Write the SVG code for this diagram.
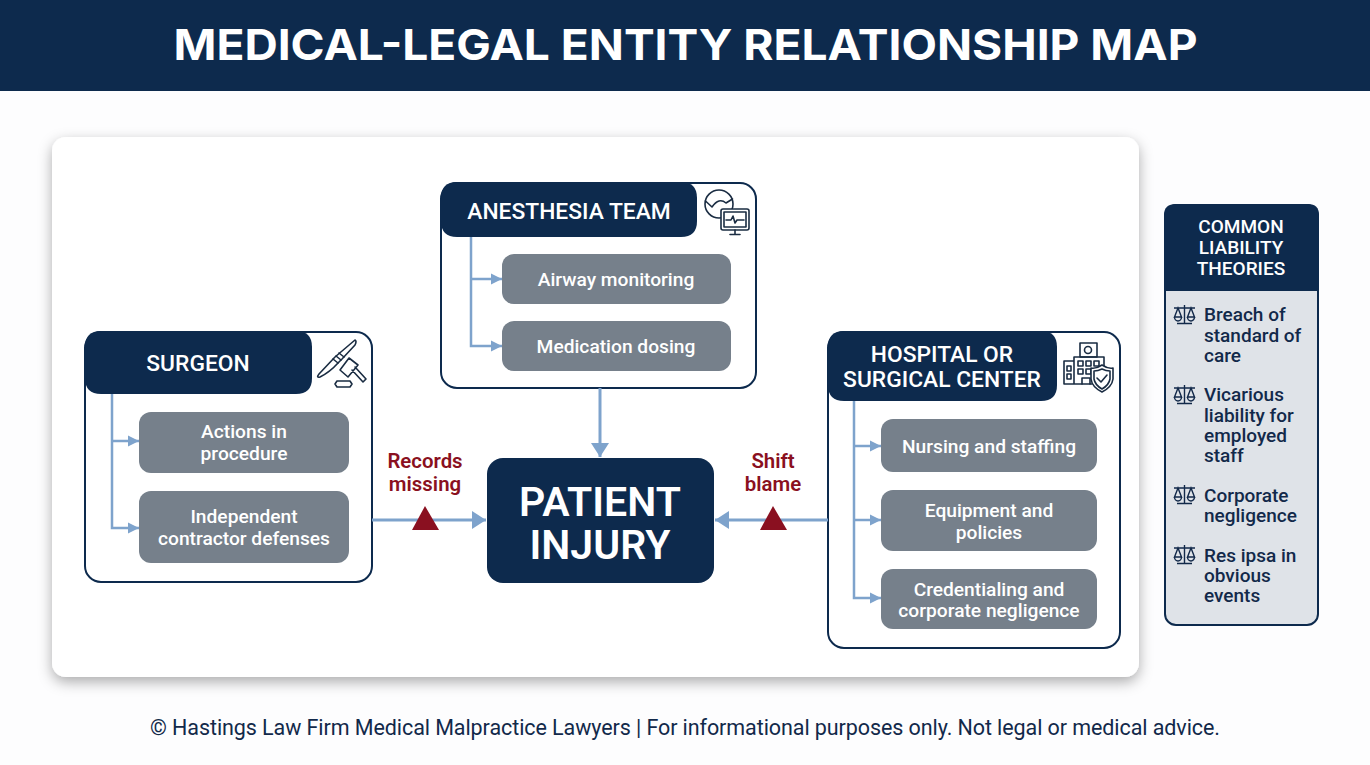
<svg xmlns="http://www.w3.org/2000/svg" width="1370" height="765" viewBox="0 0 1370 765">
<defs>
<filter id="sh" x="-5%" y="-5%" width="110%" height="112%"><feDropShadow dx="0" dy="5" stdDeviation="7" flood-color="#000" flood-opacity="0.32"/></filter>
<marker id="arr" markerUnits="userSpaceOnUse" markerWidth="16" markerHeight="18" refX="14" refY="9" orient="auto"><path d="M0 0L14 9L0 18Z" fill="#7ea3cc"/></marker>
<marker id="arrs" markerUnits="userSpaceOnUse" markerWidth="12" markerHeight="12" refX="11" refY="6" orient="auto"><path d="M0 0.5L11 6L0 11.5Z" fill="#7ea3cc"/></marker>
<g id="scale"><g fill="none" stroke="#12294a" stroke-width="1.400"><path d="M11.500 0V18M4 18.500H19M1 3H22M5 3L1.500 12H8.500ZM18 3L14.500 12H21.500Z"/><path d="M1.500 12A3.500 4 0 0 0 8.500 12M14.500 12A3.500 4 0 0 0 21.500 12"/></g></g>
</defs>
<style>
text{font-family:Roboto,"Liberation Sans",sans-serif;text-anchor:middle}
.box{fill:#fff;stroke:#0d2a4d;stroke-width:2}
.hd{fill:#0d2a4d}
.ht{fill:#fff;font-size:22.800px;font-weight:500}
.it{fill:#76808b}
.itx{fill:#fff;font-size:19.200px;font-weight:500}
.red{fill:#8a1020;font-size:20.400px;font-weight:600}
.con{fill:none;stroke:#7ea3cc;stroke-width:2.500}
.conb{fill:none;stroke:#7ea3cc;stroke-width:3}
.li{fill:#12294a;font-size:19px;font-weight:500;text-anchor:start}
.lh{fill:#fff;font-size:19px;font-weight:500}
.ic{fill:none;stroke:#1a2c42;stroke-width:1.600;stroke-linejoin:round;stroke-linecap:round}
</style>
<rect width="1370" height="765" fill="#fdfdfe"/>
<g id="title"><rect width="1370" height="91" fill="#0d2a4d"/><text x="685.500" y="60" fill="#fff" font-size="43" font-weight="700" style="font-family:Inter,'Liberation Sans',sans-serif" textLength="1024" lengthAdjust="spacingAndGlyphs">MEDICAL-LEGAL ENTITY RELATIONSHIP MAP</text></g>
<rect id="panel" x="52" y="137" width="1087" height="540" rx="14" fill="#fff" filter="url(#sh)"/>
<g id="anesthesia">
<rect class="box" x="441" y="183" width="315" height="205" rx="16"/>
<path class="hd" d="M457 182H681Q697 182 697 198V221Q697 237 681 237H457Q441 237 441 221V198Q441 182 457 182Z"/>
<text class="ht" x="569" y="219">ANESTHESIA TEAM</text>
<rect class="it" x="502" y="254" width="229" height="50" rx="12"/><text class="itx" x="616" y="286">Airway monitoring</text>
<rect class="it" x="502" y="321" width="229" height="50" rx="12"/><text class="itx" x="616" y="353">Medication dosing</text>
<g class="ic"><circle cx="719" cy="204" r="14"/><path d="M705.500 201L712 207Q719 197 726 203L732.500 199"/><rect x="721" y="209" width="28" height="21" rx="2" fill="#fff"/><rect x="724" y="212" width="22" height="15"/><path d="M726 220H731L733 216L735 223L737 220H744M735 230V234M730 234.500H740"/></g>
</g>
<g id="surgeon">
<rect class="box" x="85" y="332" width="287" height="250" rx="16"/>
<path class="hd" d="M101 331H296Q312 331 312 347V378Q312 394 296 394H101Q85 394 85 378V347Q85 331 101 331Z"/>
<text class="ht" x="198" y="371">SURGEON</text>
<rect class="it" x="139" y="412" width="210" height="61" rx="12"/><text class="itx"><tspan x="244" y="438">Actions in</tspan><tspan x="244" y="459.500">procedure</tspan></text>
<rect class="it" x="139" y="491" width="210" height="72" rx="12"/><text class="itx"><tspan x="244" y="523">Independent</tspan><tspan x="244" y="544.500">contractor defenses</tspan></text>
<g class="ic"><path d="M355 340Q357 341 355 345L342 359L338 363Q330 372 320 377Q316 378 319 374L335 357Z"/><path d="M333 359L338 363M336 356L341 360M339 353L344 357"/><path d="M349 358L358 365L348 377L340 370ZM352 370L363 382L366 379L355 367M337 381H350L352 384L350 387H337L335 384Z"/></g>
</g>
<g id="hospital">
<rect class="box" x="828" y="332" width="292" height="316" rx="16"/>
<path class="hd" d="M844 331H1041Q1057 331 1057 347V385Q1057 401 1041 401H844Q828 401 828 385V347Q828 331 844 331Z"/>
<text class="ht"><tspan x="942" y="362">HOSPITAL OR</tspan><tspan x="942" y="387">SURGICAL CENTER</tspan></text>
<rect class="it" x="881" y="419" width="216" height="53" rx="12"/><text class="itx" x="989" y="452.500">Nursing and staffing</text>
<rect class="it" x="881" y="490" width="216" height="61" rx="12"/><text class="itx"><tspan x="989" y="516.500">Equipment and</tspan><tspan x="989" y="538.500">policies</tspan></text>
<rect class="it" x="881" y="569" width="216" height="60" rx="12"/><text class="itx"><tspan x="989" y="595.500">Credentialing and</tspan><tspan x="989" y="616.500">corporate negligence</tspan></text>
<g class="ic"><rect x="1080" y="343" width="17" height="14"/><circle cx="1088" cy="350" r="3.500"/><path d="M1074 384V357H1104V366M1064 384V361H1074M1064 384H1092"/><path d="M1067 366H1071V371H1067ZM1067 374H1071V379H1067ZM1078 361H1083V366H1078ZM1086 361H1091V366H1086ZM1094 361H1099V366H1094ZM1078 369H1083V374H1078ZM1086 369H1091V374H1086ZM1082 384V378H1090V384"/><path d="M1102 365Q1108 369 1113 368V379Q1112 387 1102 392Q1092 387 1091 379V368Q1096 369 1102 365Z" fill="#fff"/><path d="M1102 369Q1106 371 1110 371V379Q1109 385 1102 389Q1095 385 1094 379V371Q1098 371 1102 369Z"/><path d="M1097 378L1101 382L1107 375"/></g>
</g>
<g id="connectors">
<path class="con" marker-end="url(#arrs)" d="M112 394V528H139"/><path class="con" marker-end="url(#arrs)" d="M112 441H139"/>
<path class="con" marker-end="url(#arrs)" d="M471 237V346H502"/><path class="con" marker-end="url(#arrs)" d="M471 279H502"/>
<path class="con" marker-end="url(#arrs)" d="M854 401V598H881"/><path class="con" marker-end="url(#arrs)" d="M854 446H881"/><path class="con" marker-end="url(#arrs)" d="M854 520H881"/>
<path class="conb" marker-end="url(#arr)" d="M600 388V457"/>
<path class="conb" marker-end="url(#arr)" d="M372 520H486"/>
<path class="conb" marker-end="url(#arr)" d="M828 520H715"/>
</g>
<g id="records-missing"><text class="red"><tspan x="425" y="468">Records</tspan><tspan x="425" y="491">missing</tspan></text><path d="M425 506L439 530H412Z" fill="#8a1020"/></g>
<g id="shift-blame"><text class="red"><tspan x="773" y="468">Shift</tspan><tspan x="773" y="491">blame</tspan></text><path d="M773 506L787 530H760Z" fill="#8a1020"/></g>
<g id="patient-injury"><rect x="487" y="458" width="227" height="125" rx="16" fill="#0d2a4d"/><text fill="#fff" font-size="41" font-weight="600"><tspan x="600" y="516">PATIENT</tspan><tspan x="600" y="559">INJURY</tspan></text></g>
<g id="theories">
<rect x="1165" y="205" width="153" height="420" rx="11" fill="#dfe3e8" stroke="#0d2a4d" stroke-width="2"/>
<path class="hd" d="M1176 204H1308Q1319 204 1319 215V291H1164V215Q1164 204 1176 204Z"/>
<text class="lh"><tspan x="1241" y="233">COMMON</tspan><tspan x="1241" y="254">LIABILITY</tspan><tspan x="1241" y="275">THEORIES</tspan></text>
<use href="#scale" x="1173" y="305"/><text class="li"><tspan x="1204" y="321">Breach of</tspan><tspan x="1204" y="342">standard of</tspan><tspan x="1204" y="362">care</tspan></text>
<use href="#scale" x="1173" y="385"/><text class="li"><tspan x="1204" y="401">Vicarious</tspan><tspan x="1204" y="422">liability for</tspan><tspan x="1204" y="442">employed</tspan><tspan x="1204" y="462">staff</tspan></text>
<use href="#scale" x="1173" y="485"/><text class="li"><tspan x="1204" y="502">Corporate</tspan><tspan x="1204" y="522">negligence</tspan></text>
<use href="#scale" x="1173" y="545"/><text class="li"><tspan x="1204" y="562">Res ipsa in</tspan><tspan x="1204" y="582">obvious</tspan><tspan x="1204" y="602">events</tspan></text>
</g>
<text id="footer" x="685" y="735" fill="#12294a" font-size="21.500" font-weight="400" textLength="1070" lengthAdjust="spacing">© Hastings Law Firm Medical Malpractice Lawyers | For informational purposes only. Not legal or medical advice.</text>
</svg>
